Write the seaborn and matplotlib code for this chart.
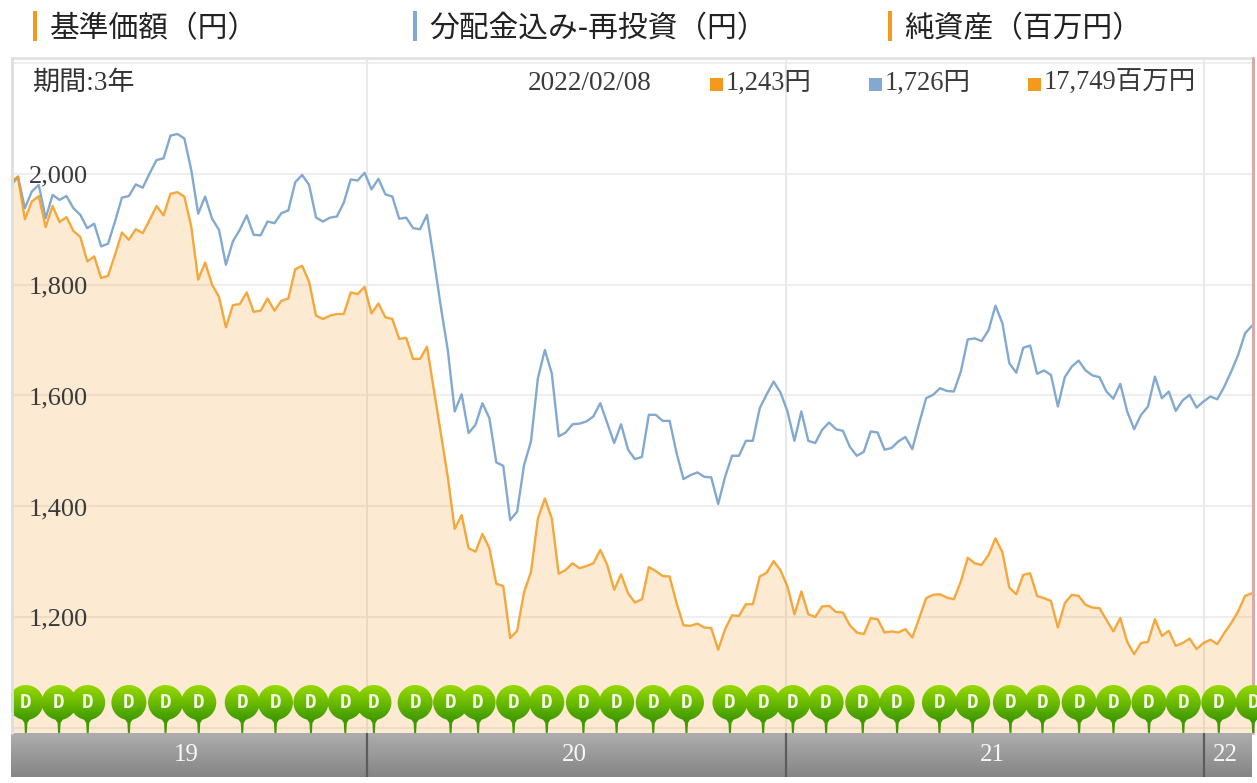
import matplotlib
matplotlib.use('Agg')
import numpy as np
import pandas as pd
import seaborn as sns
import matplotlib.pyplot as plt
import matplotlib.dates as mdates
from matplotlib.path import Path
from matplotlib.patches import PathPatch, Rectangle, Polygon

# Data
nav = [1986, 1995, 1918, 1950, 1960, 1904, 1942, 1913, 1922, 1897, 1886, 1842, 1851, 1812, 1816,
       1854, 1894, 1881, 1900, 1893, 1917, 1942, 1925, 1964, 1967, 1959, 1905, 1809, 1840, 1800,
       1778, 1723, 1763, 1765, 1786, 1751, 1753, 1775, 1753, 1771, 1775, 1828, 1834, 1805,
       1744, 1738, 1744, 1747, 1747, 1786, 1783, 1796, 1748, 1766, 1741, 1738, 1702, 1704, 1666,
       1666, 1688, 1610, 1532, 1453, 1359, 1384, 1324, 1318, 1350, 1324,
       1260, 1256, 1162, 1175, 1245, 1281, 1378, 1414, 1378, 1278, 1285, 1297, 1288, 1292, 1297,
       1321, 1294, 1249, 1277, 1243, 1226, 1232, 1290, 1283, 1274, 1273, 1225, 1185, 1184, 1188,
       1181, 1180, 1141, 1178, 1203, 1202, 1223, 1223, 1273, 1280, 1301, 1284, 1255, 1205, 1246,
       1205, 1200, 1219, 1220, 1209, 1208, 1185, 1172, 1169, 1198, 1196, 1172, 1174, 1172, 1178,
       1163, 1198, 1234,
       1240, 1241, 1235, 1232, 1264, 1307, 1297, 1294, 1312, 1342, 1317, 1253, 1241, 1276, 1279,
       1238, 1234, 1229, 1181, 1225, 1240, 1238, 1222, 1217, 1216, 1195, 1174, 1198, 1155, 1133,
       1153, 1155, 1196, 1166, 1175, 1148, 1153, 1161, 1142, 1153, 1159, 1151, 1171, 1189, 1210,
       1238, 1243]
reinvest = [1979, 1995, 1938, 1968, 1980, 1920, 1962, 1953, 1960, 1938, 1926, 1902, 1910, 1869, 1874,
            1914, 1957, 1960, 1981, 1975, 2001, 2025, 2028, 2069, 2072, 2064, 2007, 1928, 1959, 1919,
            1899, 1836, 1878, 1899, 1925, 1890, 1889, 1914, 1911, 1929, 1934, 1985, 1998, 1980,
            1921, 1914, 1921, 1923, 1948, 1990, 1988, 2002, 1972, 1991, 1963, 1959, 1919, 1921, 1902,
            1900, 1926, 1845, 1760, 1682, 1571, 1602, 1532, 1547, 1586, 1559,
            1479, 1473, 1375, 1390, 1474, 1517, 1631, 1682, 1640, 1526, 1533, 1548, 1549, 1553, 1562,
            1586, 1550, 1514, 1548, 1502, 1485, 1489, 1565, 1565, 1554, 1554, 1496, 1449, 1456, 1461,
            1453, 1452, 1404, 1453, 1491, 1491, 1518, 1518, 1577, 1602, 1625, 1605, 1571, 1518, 1571,
            1518, 1514, 1538, 1551, 1539, 1536, 1507, 1491, 1498, 1535, 1533, 1502, 1505, 1517, 1525,
            1503, 1550, 1595,
            1601, 1613, 1608, 1607, 1643, 1701, 1703, 1698, 1718, 1762, 1730, 1658, 1641, 1686, 1690,
            1639, 1645, 1637, 1580, 1633, 1652, 1663, 1645, 1636, 1633, 1607, 1594, 1621, 1571, 1539,
            1565, 1580, 1634, 1595, 1607, 1572, 1591, 1601, 1578, 1589, 1598, 1593, 1616, 1643, 1673,
            1712, 1726]
dividend_dates = ['2019-03-09', '2019-04-07', '2019-05-02', '2019-06-07', '2019-07-09', '2019-08-07',
                  '2019-09-14', '2019-10-13', '2019-11-13', '2019-12-13', '2020-01-07', '2020-02-12',
                  '2020-03-14', '2020-04-07', '2020-05-08', '2020-06-06', '2020-07-08', '2020-08-06',
                  '2020-09-07', '2020-10-06', '2020-11-13', '2020-12-12', '2021-01-07', '2021-02-05',
                  '2021-03-09', '2021-04-08', '2021-05-15', '2021-06-13', '2021-07-16', '2021-08-13',
                  '2021-09-14', '2021-10-14', '2021-11-14', '2021-12-14', '2022-01-14', '2022-02-13']
year_starts = ['2020-01-01', '2021-01-01', '2022-01-01']
year_labels = ['19', '20', '21', '22']
y_grid = [1000, 1200, 1400, 1600, 1800, 2000, 2200]
y_labels = [1200, 1400, 1600, 1800, 2000]
headers = ['基準価額（円）', '分配金込み-再投資（円）', '純資産（百万円）']
latest = ['1,243円', '1,726円', '17,749百万円']

ORANGE = '#f39a1e'
BLUE = '#82a9cf'
SERIF = ['Liberation Serif', 'Noto Sans CJK JP']
SANS = ['Noto Sans CJK JP', 'DejaVu Sans']

sns.set_theme(style='white')
plt.rcParams['font.family'] = SANS

df = pd.DataFrame({
    'date': pd.date_range('2019-02-24', '2022-02-12', periods=len(nav)),
    'nav': nav,
    'reinvest': reinvest,
})

W, H = 1257, 783
fig = plt.figure(figsize=(W / 100, H / 100), dpi=100, facecolor='white')

# main chart, pixel box 11..1252 / 57..733
ax = fig.add_axes([11 / W, 1 - 733 / H, 1241 / W, 676 / H])
ax.set_xlim(mdates.date2num(pd.Timestamp('2019-02-24')), mdates.date2num(pd.Timestamp('2022-02-12')))
ax.set_ylim(990.5, 2211)
ax.xaxis_date()
for y in y_grid:
    ax.axhline(y, color='#eeeeee', lw=1.5, zorder=0)
for d in year_starts:
    ax.axvline(pd.Timestamp(d), color='#e9e9e9', lw=1.5, zorder=0)
ax.fill_between(df['date'], df['nav'], 990.5, color=ORANGE, alpha=0.2, lw=0, zorder=1)
sns.lineplot(data=df, x='date', y='reinvest', ax=ax, color=BLUE, lw=1.7, zorder=2)
sns.lineplot(data=df, x='date', y='nav', ax=ax, color=ORANGE, lw=1.7, alpha=0.85, zorder=3)
ax.set_xlabel('')
ax.set_ylabel('')
ax.set_xticks([])
ax.set_yticks([])
for side in ax.spines.values():
    side.set_visible(False)
ax.set_xlim(mdates.date2num(pd.Timestamp('2019-02-24')), mdates.date2num(pd.Timestamp('2022-02-12')))
for y in y_labels:
    ax.annotate(f'{y:,}', (mdates.date2num(pd.Timestamp('2019-03-10')), y), xytext=(1, -2),
                textcoords='offset points', family=SERIF, fontsize=19, color='#3a3a3a',
                va='center', ha='left', zorder=4)

# year band under the chart
band = fig.add_axes([11 / W, 1 - 777 / H, 1241 / W, 44 / H], sharex=ax)
xlim = ax.get_xlim()
band.imshow(np.linspace(0, 1, 64).reshape(-1, 1), cmap=matplotlib.colors.LinearSegmentedColormap.from_list(
    'band', ['#adadad', '#858585']), extent=[xlim[0], xlim[1], 0, 1], aspect='auto', origin='upper')
band.set_xlim(xlim)
band.set_ylim(0, 1)
edges = [xlim[0]] + [mdates.date2num(pd.Timestamp(d)) for d in year_starts] + [xlim[1]]
for d in edges[1:-1]:
    band.axvline(d, color='#5c5c5c', lw=1.6)
for i, label in enumerate(year_labels):
    band.text((edges[i] + edges[i + 1]) / 2 - 2, 0.5, label, family=SERIF, fontsize=18, color='#f7f7f7',
              ha='center', va='center')
band.axis('off')

# overlay in pixel coordinates for frame, header and pins
top = fig.add_axes([0, 0, 1, 1], facecolor='none')
top.set_xlim(0, W)
top.set_ylim(H, 0)
top.axis('off')

top.plot([11, 1252], [58, 58], color='#e2e2e2', lw=2)
top.plot([1253, 1253], [58, 733], color='#d8abab', lw=2.2)

for x, color, text in zip([34.5, 414.5, 889.5], [ORANGE, BLUE, ORANGE], headers):
    top.add_patch(Rectangle((x - 2, 11), 4, 30, color=color, lw=0))
    top.text(x + 15, 28.5, text, fontsize=21.4, color='#222222', va='center', ha='left')

top.text(33, 83, '期間:3年', family=[SERIF[0], SANS[0]], fontsize=19.5, color='#333333', va='center', ha='left')
top.text(528, 83, '2022/02/08', family=SERIF, fontsize=19.6, color='#3a3a3a', va='center', ha='left')
for x, color, text in zip([710, 869, 1028], [ORANGE, BLUE, ORANGE], latest):
    top.add_patch(Rectangle((x, 78), 13, 13, color=color, lw=0))
    top.text(x + 16, 83, text, family=SERIF, fontsize=19.1, color='#3a3a3a', va='center', ha='left')

# dividend pins
pin_x = [ax.transData.transform((mdates.date2num(pd.Timestamp(d)), 1000))[0] for d in dividend_dates]
for x in pin_x:
    top.add_patch(Polygon([(x - 6, 716), (x + 6, 716), (x + 1.5, 723), (x + 1, 733), (x - 1, 733), (x - 1.5, 723)],
                          color='#3f9a00', lw=0, zorder=3))
pin_path = Path.make_compound_path(*[Path.circle((x, 702.5), 17.5) for x in pin_x])
grad = top.imshow(np.linspace(0, 1, 64).reshape(-1, 1), cmap=matplotlib.colors.LinearSegmentedColormap.from_list(
    'pin', ['#97d900', '#6cbb00', '#3f9a00']), extent=[0, W, 720, 685], aspect='auto', origin='upper', zorder=4)
clip = PathPatch(pin_path, transform=top.transData, facecolor='none', edgecolor='none')
top.add_patch(clip)
grad.set_clip_path(clip)
top.set_xlim(0, W)
top.set_ylim(H, 0)
for x in pin_x:
    top.text(x, 702.5, 'D', family='DejaVu Sans Mono', fontweight='bold', fontsize=14, color='#f4f9e8',
             ha='center', va='center', zorder=5, clip_on=False)

# pins stop at the left edge of the chart, then the frame line on top
top.add_patch(Rectangle((0, 58), 11, 720, color='white', lw=0, zorder=6))
top.plot([12, 12], [58, 733], color='#dedede', lw=2, zorder=7)

fig.savefig('out.png', dpi=100)
